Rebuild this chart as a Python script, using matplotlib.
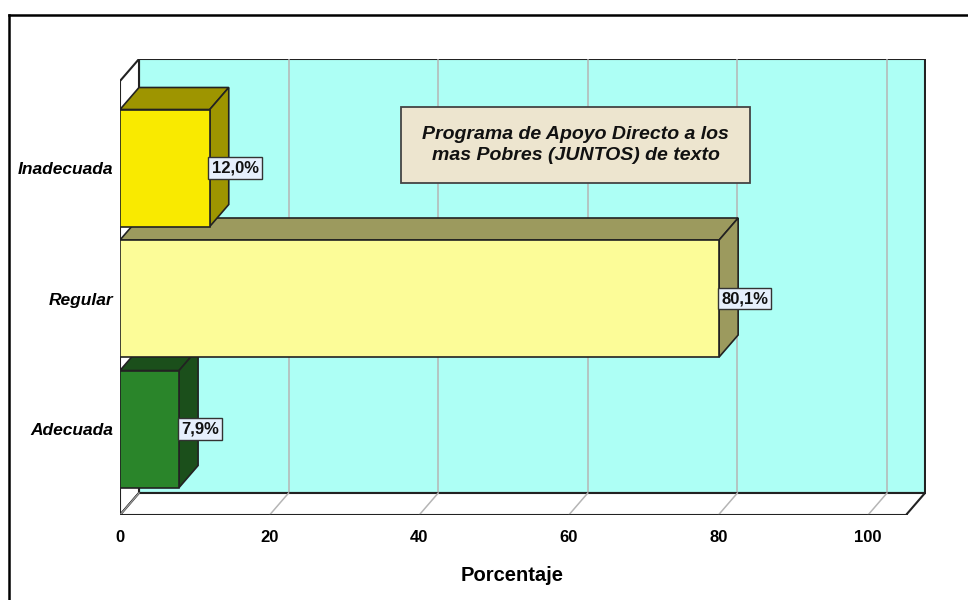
import matplotlib
matplotlib.use("Agg")
import matplotlib.pyplot as plt
from matplotlib.patches import Polygon, Rectangle

plt.rcParams['font.family'] = ['Liberation Sans', 'DejaVu Sans']

categories = ["Adecuada", "Regular", "Inadecuada"]
values = [7.9, 80.1, 12.0]
value_labels = ["7,9%", "80,1%", "12,0%"]
x_ticks = [0, 20, 40, 60, 80, 100]
x_label = "Porcentaje"
title_text = "Programa de Apoyo Directo a los\nmas Pobres (JUNTOS) de texto"

front_colors = ["#2a852a", "#fcfc98", "#f9ea00"]
side_colors = ["#1b4f1b", "#9c9a5e", "#9e9500"]

W, H = 968, 600
fig = plt.figure(figsize=(W / 100, H / 100), dpi=100)

# outer frame
fig.add_artist(plt.Line2D([9 / W, 9 / W], [1 - 15 / H, 0], color="black", lw=1.8))
fig.add_artist(plt.Line2D([9 / W, 1], [1 - 15 / H, 1 - 15 / H], color="black", lw=1.8))

px_left, px_right, px_bottom, px_top = 120, 926, 515, 59
ax = fig.add_axes([px_left / W, 1 - px_bottom / H, (px_right - px_left) / W, (px_bottom - px_top) / H])
ppu_x = 7.48
ppu_y = 130.5
xmax = (px_right - px_left) / ppu_x
y0 = (429 - px_bottom) / ppu_y
ytop = (429 - px_top) / ppu_y
ax.set_xlim(0, xmax)
ax.set_ylim(y0, ytop)
for s in ax.spines.values():
    s.set_visible(False)
ax.patch.set_alpha(0)

dx = 19 / ppu_x
dy = 22 / ppu_y
xfront_end = (906 - px_left) / ppu_x
edge = "#222222"

# back wall
ax.add_patch(Rectangle((dx, y0 + dy), xfront_end, ytop - y0 - dy,
                       facecolor="#adfff5", edgecolor=edge, lw=1.5, zorder=1))
# left wall
ax.add_patch(Polygon([(0, y0), (dx, y0 + dy), (dx, ytop), (0, ytop - dy)],
                     closed=True, facecolor="white", edgecolor=edge, lw=1.5, zorder=1.5))
# floor
ax.add_patch(Polygon([(0, y0), (xfront_end, y0), (xfront_end + dx, y0 + dy), (dx, y0 + dy)],
                     closed=True, facecolor="white", edgecolor=edge, lw=1.5, zorder=1.5))
# gridlines
for t in x_ticks:
    if t == 0:
        ax.plot([t, t + dx], [y0, y0 + dy], color="#999999", lw=1, zorder=1.6)
        continue
    ax.plot([t + dx, t + dx], [y0 + dy, ytop], color="#b5b5b5", lw=1.1, zorder=1.2)
    ax.plot([t, t + dx], [y0, y0 + dy], color="#b5b5b5", lw=1.1, zorder=1.6)
ax.plot([0, xfront_end], [y0, y0], color=edge, lw=2, zorder=1.7)

bar_h = 117 / ppu_y
for i, (c, v) in enumerate(zip(categories, values)):
    yc = i
    yb, yt = yc - bar_h / 2, yc + bar_h / 2
    z = 3 + i
    ax.add_patch(Polygon([(0, yt), (v, yt), (v + dx, yt + dy), (dx, yt + dy)], closed=True,
                         facecolor=side_colors[i], edgecolor=edge, lw=1.2, zorder=z))
    ax.add_patch(Polygon([(v, yb), (v + dx, yb + dy), (v + dx, yt + dy), (v, yt)], closed=True,
                         facecolor=side_colors[i], edgecolor=edge, lw=1.2, zorder=z))
    ax.add_patch(Rectangle((0, yb), v, bar_h, facecolor=front_colors[i], edgecolor=edge,
                           lw=1.2, zorder=z + 0.1))
    ax.text(v + 0.25, yc, value_labels[i], ha="left", va="center", fontsize=12,
            fontweight="bold", color="#111111", zorder=10,
            bbox=dict(boxstyle="square,pad=0.2", facecolor="#e6effc", edgecolor="#333333", lw=1))

# title box
bx0, bx1 = (401 - px_left) / ppu_x, (750 - px_left) / ppu_x
by0, by1 = (429 - 183) / ppu_y, (429 - 107) / ppu_y
ax.add_patch(Rectangle((bx0, by0), bx1 - bx0, by1 - by0, facecolor="#ede5cf",
                       edgecolor="#444444", lw=1.3, zorder=8))
ax.text((bx0 + bx1) / 2, (by0 + by1) / 2, title_text, ha="center", va="center",
        fontsize=14, fontweight="bold", fontstyle="italic", color="#111111",
        linespacing=1.3, zorder=9)

ax.set_yticks(range(len(categories)))
ax.set_yticklabels(categories, fontsize=12.5, fontweight="bold", fontstyle="italic")
ax.set_xticks(x_ticks)
ax.set_xticklabels([str(t) for t in x_ticks], fontsize=12, fontweight="bold")
ax.tick_params(length=0)
ax.tick_params(axis="y", pad=5)
ax.tick_params(axis="x", pad=11)
ax.set_xlabel(x_label, fontsize=14.5, fontweight="bold")
ax.xaxis.set_label_coords((512 - px_left) / (px_right - px_left), -(566 - px_bottom) / (px_bottom - px_top))

fig.savefig("out.png", dpi=100)
